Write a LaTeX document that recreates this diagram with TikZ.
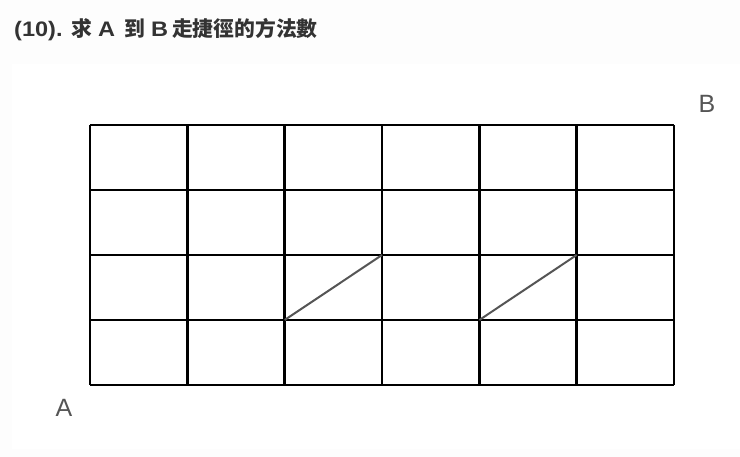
\documentclass[tikz,border=0pt]{standalone}
\usepackage{fontspec}
\setmainfont{Liberation Sans}
\newfontfamily\cjk{Noto Sans CJK TC}
\newfontfamily\latb[FakeStretch=1.12]{Liberation Sans}
\definecolor{titlegray}{HTML}{333333}
\definecolor{labelgray}{HTML}{555555}
\definecolor{diaggray}{HTML}{555555}
\definecolor{bgray}{HTML}{FDFDFD}
\newcommand{\lt}[1]{{\latb\bfseries\fontsize{21}{21}\selectfont #1}}
\begin{document}
\begin{tikzpicture}[x=1pt,y=-1pt,
  gridline/.style={line width=2.6pt, black},
  diagline/.style={line width=2pt, diaggray},
  ptlabel/.style={font=\fontsize{25}{25}\selectfont, text=labelgray, inner sep=0pt},
  titletext/.style={font=\cjk\bfseries\fontsize{20.8}{20.8}\selectfont, text=titlegray, inner sep=0pt, anchor=base west}]
\useasboundingbox (0,0) rectangle (740,457);
\fill[bgray] (0,0) rectangle (740,457);
\fill[white] (12,64) rectangle (740,449);
\node[titletext] (title) at (14,36.5) {\makebox[57pt][l]{\lt{(10).}}\makebox[27pt][l]{求}\makebox[26pt][l]{\lt{A}}\makebox[27pt][l]{到}\makebox[21pt][l]{\lt{B}}走捷徑的方法數};
% grid coordinates
\foreach \i in {0,...,6} {
  \coordinate (vb\i) at ({90+\i*97.333},385);
  \coordinate (vt\i) at ({90+\i*97.333},125);
}
\foreach \j in {0,...,4} {
  \coordinate (hl\j) at (90,{385-\j*65});
  \coordinate (hr\j) at (674,{385-\j*65});
}
\foreach \i in {0,...,6} \draw[gridline] (vb\i) -- (vt\i);
\foreach \j in {0,...,4} \draw[gridline] (hl\j) -- (hr\j);
% diagonals
\coordinate (d1a) at (284.667,320);
\coordinate (d1b) at (382,255);
\coordinate (d2a) at (479.333,320);
\coordinate (d2b) at (576.667,255);
\draw[diagline] (d1a) -- (d1b);
\draw[diagline] (d2a) -- (d2b);
\node[ptlabel] (A) at (64,408) {A};
\node[ptlabel] (B) at (707,104) {B};
\end{tikzpicture}
\end{document}
